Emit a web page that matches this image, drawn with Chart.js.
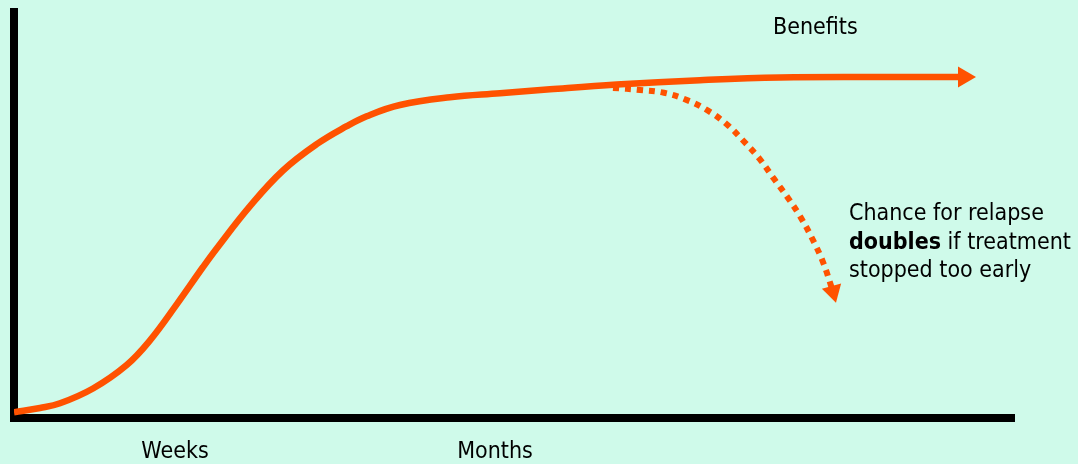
<!DOCTYPE html>
<html>
<head>
<meta charset="utf-8">
<script src="https://cdn.jsdelivr.net/npm/chart.js@4/dist/chart.umd.min.js"></script>
<style>
  html, body { margin: 0; padding: 0; background: #cffaea; }
  #wrap { position: relative; width: 1078px; height: 464px; }
</style>
</head>
<body>
<div id="wrap"><canvas id="chart"></canvas></div>
<script>
// Treatment benefit over time (schematic, 0–100 on both axes)
const benefitX = [0, 2.6, 4.6, 7.9, 11.27, 13.6, 16.27, 18.9, 20.27, 23.6, 26.9, 30.27, 33.27, 35.27, 38.6, 43.6, 48.6, 53.6, 60.27, 68.6, 76.6, 86.6, 95.0];
const benefitY = [1.4, 2.46, 3.62, 7.27, 13.05, 19.11, 27.98, 37.19, 41.77, 52.19, 60.96, 67.44, 71.87, 74.33, 77.09, 78.99, 79.98, 80.96, 82.14, 83.2, 83.87, 83.99, 83.99];

// Relapse path when treatment is stopped early
const relapseX = [59.9, 62.6, 65.0, 67.3, 69.4, 71.3, 73.0, 74.6, 76.0, 77.4, 78.7, 79.9, 80.9, 81.9];
const relapseY = [81.3, 80.8, 80.1, 78.3, 75.7, 72.3, 68.1, 63.7, 58.9, 54.2, 49.3, 43.8, 38.4, 31.1];

// Time axis labels
const timeTickValues = [16.1, 48.1];
const timeTickLabels = ['Weeks', 'Months'];

const ORANGE = '#ff5200';
const BG = '#cffaea';
const FONT = "'DejaVu Sans Condensed', 'DejaVu Sans', sans-serif";

Chart.defaults.font.family = FONT;
Chart.defaults.color = '#000';

const toPoints = (xs, ys) => xs.map((x, i) => ({ x, y: ys[i] }));
const lastOnly = (r) => (ctx) => ctx.dataIndex === ctx.dataset.data.length - 1 ? r : 0;

const background = {
  id: 'background',
  beforeDraw(chart) {
    const { ctx, width, height } = chart;
    ctx.save();
    ctx.fillStyle = BG;
    ctx.fillRect(0, 0, width, height);
    ctx.restore();
  }
};

// Text annotations placed in data coordinates
const notes = {
  id: 'notes',
  afterDraw(chart) {
    const { ctx, scales: { x, y } } = chart;
    ctx.save();
    ctx.fillStyle = '#000';
    ctx.textBaseline = 'alphabetic';
    ctx.textAlign = 'left';
    const size = 23;
    const normal = `${size}px ${FONT}`;
    const bold = `bold ${size}px ${FONT}`;

    ctx.font = normal;
    ctx.fillText('Benefits', x.getPixelForValue(75.9), y.getPixelForValue(94.6));

    const left = x.getPixelForValue(83.5);
    ctx.fillText('Chance for relapse', left, y.getPixelForValue(48.8));
    ctx.font = bold;
    const bw = ctx.measureText('doubles').width;
    ctx.fillText('doubles', left, y.getPixelForValue(41.7));
    ctx.font = normal;
    ctx.fillText(' if treatment', left + bw, y.getPixelForValue(41.7));
    ctx.fillText('stopped too early', left, y.getPixelForValue(34.7));
    ctx.restore();
  }
};

new Chart(document.getElementById('chart'), {
  type: 'line',
  data: {
    datasets: [
      {
        label: 'Benefits',
        data: toPoints(benefitX, benefitY),
        borderColor: ORANGE,
        borderWidth: 6.5,
        tension: 0.4,
        borderCapStyle: 'butt',
        borderJoinStyle: 'round',
        pointStyle: 'triangle',
        pointRotation: 90,
        pointRadius: lastOnly(12),
        pointHoverRadius: lastOnly(12),
        pointBackgroundColor: ORANGE,
        pointBorderWidth: 0
      },
      {
        label: 'Relapse',
        data: toPoints(relapseX, relapseY),
        borderColor: ORANGE,
        borderWidth: 6,
        borderDash: [6, 6],
        borderCapStyle: 'butt',
        tension: 0.4,
        pointStyle: 'triangle',
        pointRotation: 165,
        pointRadius: lastOnly(11.5),
        pointHoverRadius: lastOnly(11.5),
        pointBackgroundColor: ORANGE,
        pointBorderWidth: 0
      }
    ]
  },
  options: {
    responsive: true,
    maintainAspectRatio: false,
    animation: false,
    events: [],
    layout: { padding: { left: 14, right: 64, top: 12, bottom: 0 } },
    plugins: { legend: { display: false }, tooltip: { enabled: false } },
    scales: {
      x: {
        type: 'linear',
        min: 0,
        max: 100,
        grid: { display: false, drawTicks: false },
        border: { display: true, color: '#000', width: 8 },
        afterBuildTicks(axis) { axis.ticks = timeTickValues.map(v => ({ value: v })); },
        afterFit(axis) { axis.height = 46; },
        ticks: {
          autoSkip: false,
          maxRotation: 0,
          padding: 23,
          color: '#000',
          font: { size: 23, family: FONT, lineHeight: 1 },
          callback: (value, index) => timeTickLabels[index]
        }
      },
      y: {
        type: 'linear',
        min: 0,
        max: 100,
        grid: { display: false, drawTicks: false },
        border: { display: true, color: '#000', width: 8 },
        ticks: { display: false }
      }
    }
  },
  plugins: [background, notes]
});
</script>
</body>
</html>
